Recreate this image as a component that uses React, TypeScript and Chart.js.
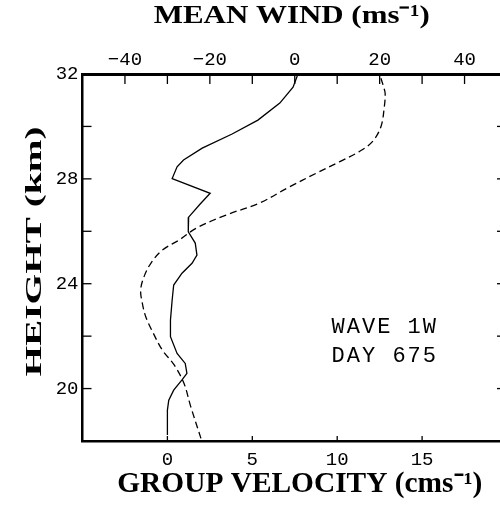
import React, { useEffect, useRef } from "react";
import { Chart, registerables } from "chart.js";

Chart.register(...registerables);

// Solid curve: group velocity (cm/s, bottom axis) vs height (km)
const solidHeight = [32.0, 31.5, 30.89, 30.24, 29.71, 29.17, 28.72, 28.46, 28.01, 27.45, 27.04, 26.54, 25.98, 25.55, 25.09, 24.78, 24.4, 23.95, 23.38, 22.61, 21.98, 21.34, 20.96, 20.58, 20.33, 19.94, 19.56, 19.18, 18.23];
const groupVelocity = [7.69, 7.4, 6.62, 5.33, 3.81, 2.05, 0.95, 0.57, 0.28, 2.52, 1.93, 1.25, 1.23, 1.64, 1.74, 1.45, 0.86, 0.37, 0.28, 0.18, 0.18, 0.57, 1.05, 1.15, 0.86, 0.37, 0.08, 0.0, 0.0];

// Dashed curve: mean wind (m/s, top axis) vs height (km)
const dashedHeight = [31.84, 31.47, 31.26, 30.75, 29.99, 29.42, 29.04, 28.65, 28.21, 27.69, 27.07, 26.62, 26.11, 25.67, 25.28, 24.78, 24.27, 23.76, 23.25, 22.74, 22.17, 21.47, 20.9, 20.2, 19.31, 18.1];
const meanWind = [20.3, 21.0, 21.3, 21.1, 20.3, 18.3, 15.2, 10.5, 5.0, -1.3, -8.4, -16.2, -23.3, -27.2, -31.2, -33.9, -35.5, -36.3, -35.9, -35.1, -33.5, -31.2, -28.4, -26.1, -24.5, -22.1];

const heightTickLabels = [20, 24, 28, 32];
const windTickLabels = [-40, -20, 0, 20, 40];
const velocityTickLabels = [0, 5, 10, 15];
const annotationLines = ["WAVE 1W", "DAY 675"];

const topTitle = "MEAN WIND (ms\u207B\u00B9)";
const bottomTitle = "GROUP VELOCITY (cms\u207B\u00B9)";
const leftTitle = "HEIGHT (km)";

const INK = "#000";
const MONO = '"Liberation Mono", "Courier New", monospace';
const SERIF = '"Liberation Serif", "Times New Roman", serif';

// annotation anchor, in data units (group velocity, height)
const annotationAnchorX = 9.67;
const annotationAnchorY = [22.12, 21.01];

const fmt = (v: number) => (v < 0 ? "\u2212" + Math.abs(v) : String(v));

function drawTitle(
  ctx: CanvasRenderingContext2D,
  text: string,
  cx: number,
  cy: number,
  font: string,
  targetWidth: number,
  rotation: number
) {
  ctx.save();
  ctx.font = font;
  const w = ctx.measureText(text).width;
  ctx.translate(cx, cy);
  ctx.rotate(rotation);
  ctx.scale(targetWidth / w, 1);
  ctx.textAlign = "center";
  ctx.textBaseline = "middle";
  ctx.fillStyle = INK;
  ctx.fillText(text, 0, 0);
  ctx.restore();
}

const decorPlugin = {
  id: "decor",
  afterDraw(chart: any) {
    const { ctx, chartArea, scales } = chart;
    const { left, right, top, bottom } = chartArea;
    ctx.save();
    ctx.strokeStyle = INK;
    ctx.lineWidth = 1.3;
    const line = (x1: number, y1: number, x2: number, y2: number) => {
      ctx.beginPath();
      ctx.moveTo(x1, y1);
      ctx.lineTo(x2, y2);
      ctx.stroke();
    };
    scales.y.ticks.forEach((t: any) => {
      if (t.value <= scales.y.min || t.value >= scales.y.max) return;
      const py = scales.y.getPixelForValue(t.value);
      line(left, py, left + 9, py);
      line(right, py, right - 10, py);
    });
    scales.xTop.ticks.forEach((t: any) => {
      if (t.value <= scales.xTop.min || t.value >= scales.xTop.max) return;
      const px = scales.xTop.getPixelForValue(t.value);
      line(px, top, px, top + 10);
    });
    scales.xBottom.ticks.forEach((t: any) => {
      if (t.value <= scales.xBottom.min || t.value >= scales.xBottom.max) return;
      const px = scales.xBottom.getPixelForValue(t.value);
      line(px, bottom, px, bottom - 5);
    });

    // annotation text
    ctx.fillStyle = INK;
    ctx.font = `22px ${MONO}`;
    (ctx as any).letterSpacing = "2px";
    ctx.textBaseline = "alphabetic";
    ctx.textAlign = "left";
    annotationLines.forEach((s, i) => {
      ctx.fillText(
        s,
        scales.xBottom.getPixelForValue(annotationAnchorX),
        scales.y.getPixelForValue(annotationAnchorY[i])
      );
    });
    (ctx as any).letterSpacing = "0px";
    ctx.restore();

    // axis titles
    const midX = (left + right) / 2;
    const midY = (top + bottom) / 2;
    drawTitle(ctx, topTitle, midX - 3, 16, `bold 26px ${SERIF}`, 276, 0);
    drawTitle(ctx, bottomTitle, midX + 5, 485, `bold 29px ${SERIF}`, 365, 0);
    drawTitle(ctx, leftTitle, 35, midY - 6, `bold 24px ${SERIF}`, 250, -Math.PI / 2);
  },
};

export default function App() {
  const ref = useRef<HTMLCanvasElement | null>(null);

  useEffect(() => {
    if (!ref.current) return;
    const tickFont = { family: MONO, size: 19 };
    const chart = new Chart(ref.current, {
      type: "line",
      data: {
        datasets: [
          {
            label: "Group velocity",
            data: groupVelocity.map((v, i) => ({ x: v, y: solidHeight[i] })),
            xAxisID: "xBottom",
            yAxisID: "y",
            borderColor: INK,
            borderWidth: 1.3,
            pointRadius: 0,
            tension: 0,
            fill: false,
          },
          {
            label: "Mean wind",
            data: meanWind.map((v, i) => ({ x: v, y: dashedHeight[i] })),
            xAxisID: "xTop",
            yAxisID: "y",
            borderColor: INK,
            borderWidth: 1.3,
            borderDash: [7, 4],
            pointRadius: 0,
            tension: 0.35,
            fill: false,
          },
        ],
      },
      options: {
        responsive: false,
        animation: false,
        layout: { padding: { right: 7.5 } },
        plugins: { legend: { display: false }, tooltip: { enabled: false } },
        scales: {
          xTop: {
            type: "linear",
            position: "top",
            min: -50,
            max: 50,
            ticks: {
              stepSize: 10,
              autoSkip: false,
              maxRotation: 0,
              padding: 3,
              color: INK,
              font: tickFont,
              callback: (v: any) => (windTickLabels.includes(v) ? fmt(v) : ""),
            },
            grid: { display: false, drawTicks: false },
            border: { display: true, width: 3, color: INK },
            title: { display: false, text: topTitle },
            afterFit: (s: any) => {
              s.height = 74;
            },
          },
          xBottom: {
            type: "linear",
            position: "bottom",
            min: -5,
            max: 20,
            ticks: {
              stepSize: 5,
              autoSkip: false,
              maxRotation: 0,
              padding: 8,
              color: INK,
              font: tickFont,
              callback: (v: any) => (velocityTickLabels.includes(v) ? fmt(v) : ""),
            },
            grid: { display: false, drawTicks: false },
            border: { display: true, width: 2.5, color: INK },
            title: { display: false, text: bottomTitle },
            afterFit: (s: any) => {
              s.height = 72;
            },
          },
          y: {
            type: "linear",
            position: "left",
            min: 18,
            max: 32,
            ticks: {
              stepSize: 2,
              autoSkip: false,
              padding: 4,
              color: INK,
              font: tickFont,
              callback: (v: any) => (heightTickLabels.includes(v) ? fmt(v) : ""),
            },
            grid: { display: false, drawTicks: false },
            border: { display: true, width: 2.5, color: INK },
            title: { display: false, text: leftTitle },
            afterFit: (s: any) => {
              s.width = 82.5;
            },
          },
        },
      } as any,
      plugins: [decorPlugin],
    });
    return () => chart.destroy();
  }, []);

  return (
    <div
      style={{
        position: "fixed",
        left: 0,
        top: 0,
        width: 500,
        height: 513,
        overflow: "hidden",
        background: "#fff",
      }}
    >
      <canvas ref={ref} width={515} height={513} style={{ display: "block" }} />
    </div>
  );
}
